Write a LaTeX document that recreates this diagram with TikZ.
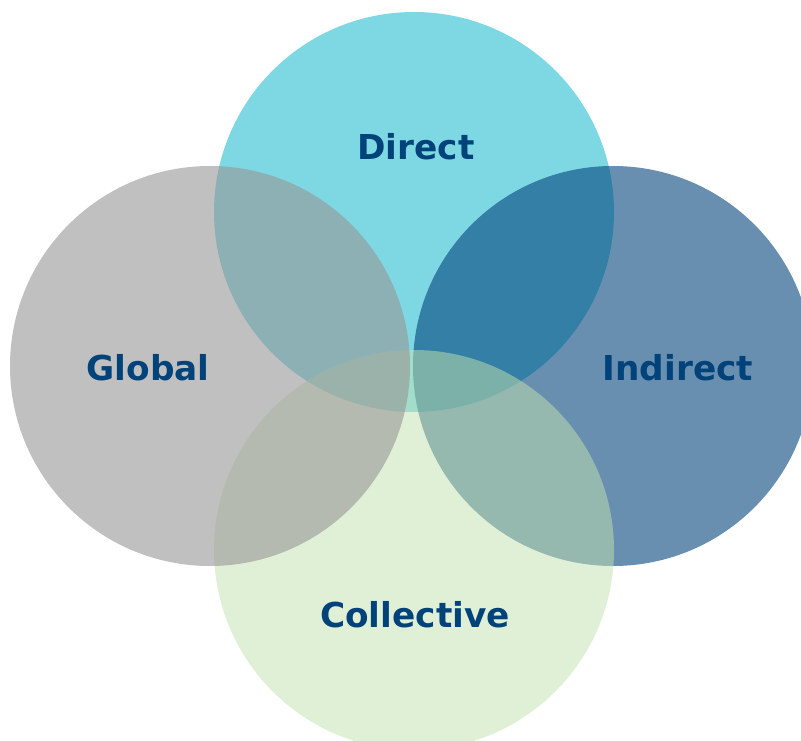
\documentclass[tikz,border=0pt]{standalone}
\usepackage{fontspec}
\setmainfont{DejaVu Sans}
\usepackage{tikz}
\usetikzlibrary{positioning}

\definecolor{directcol}{RGB}{126,216,228}
\definecolor{globalcol}{RGB}{152,152,152}
\definecolor{indirectcol}{RGB}{0,65,121}
\definecolor{collectivecol}{RGB}{195,226,175}
\definecolor{labelcol}{RGB}{0,66,122}

\begin{document}
\begin{tikzpicture}[x=0.025cm, y=-0.025cm,
    lbl/.style={text=labelcol, font=\bfseries\fontsize{24.4}{29}\selectfont}]
  \useasboundingbox (0,0) rectangle (801,741);
  \clip (0,0) rectangle (801,741);

  % the four sets
  \fill[directcol] (414,212) circle [radius=200];
  \fill[indirectcol, fill opacity=0.59] (613,366) circle [radius=200];
  \fill[collectivecol, fill opacity=0.51] (414,550) circle [radius=200];
  \fill[globalcol, fill opacity=0.61] (210,366) circle [radius=200];

  % labels
  \node[lbl] (direct) at (416,147) {Direct};
  \node[lbl] (global) at (148,368) {Global};
  \node[lbl] (indirect) at (678,368) {Indirect};
  \node[lbl] (collective) at (415,615) {Collective};
\end{tikzpicture}
\end{document}
